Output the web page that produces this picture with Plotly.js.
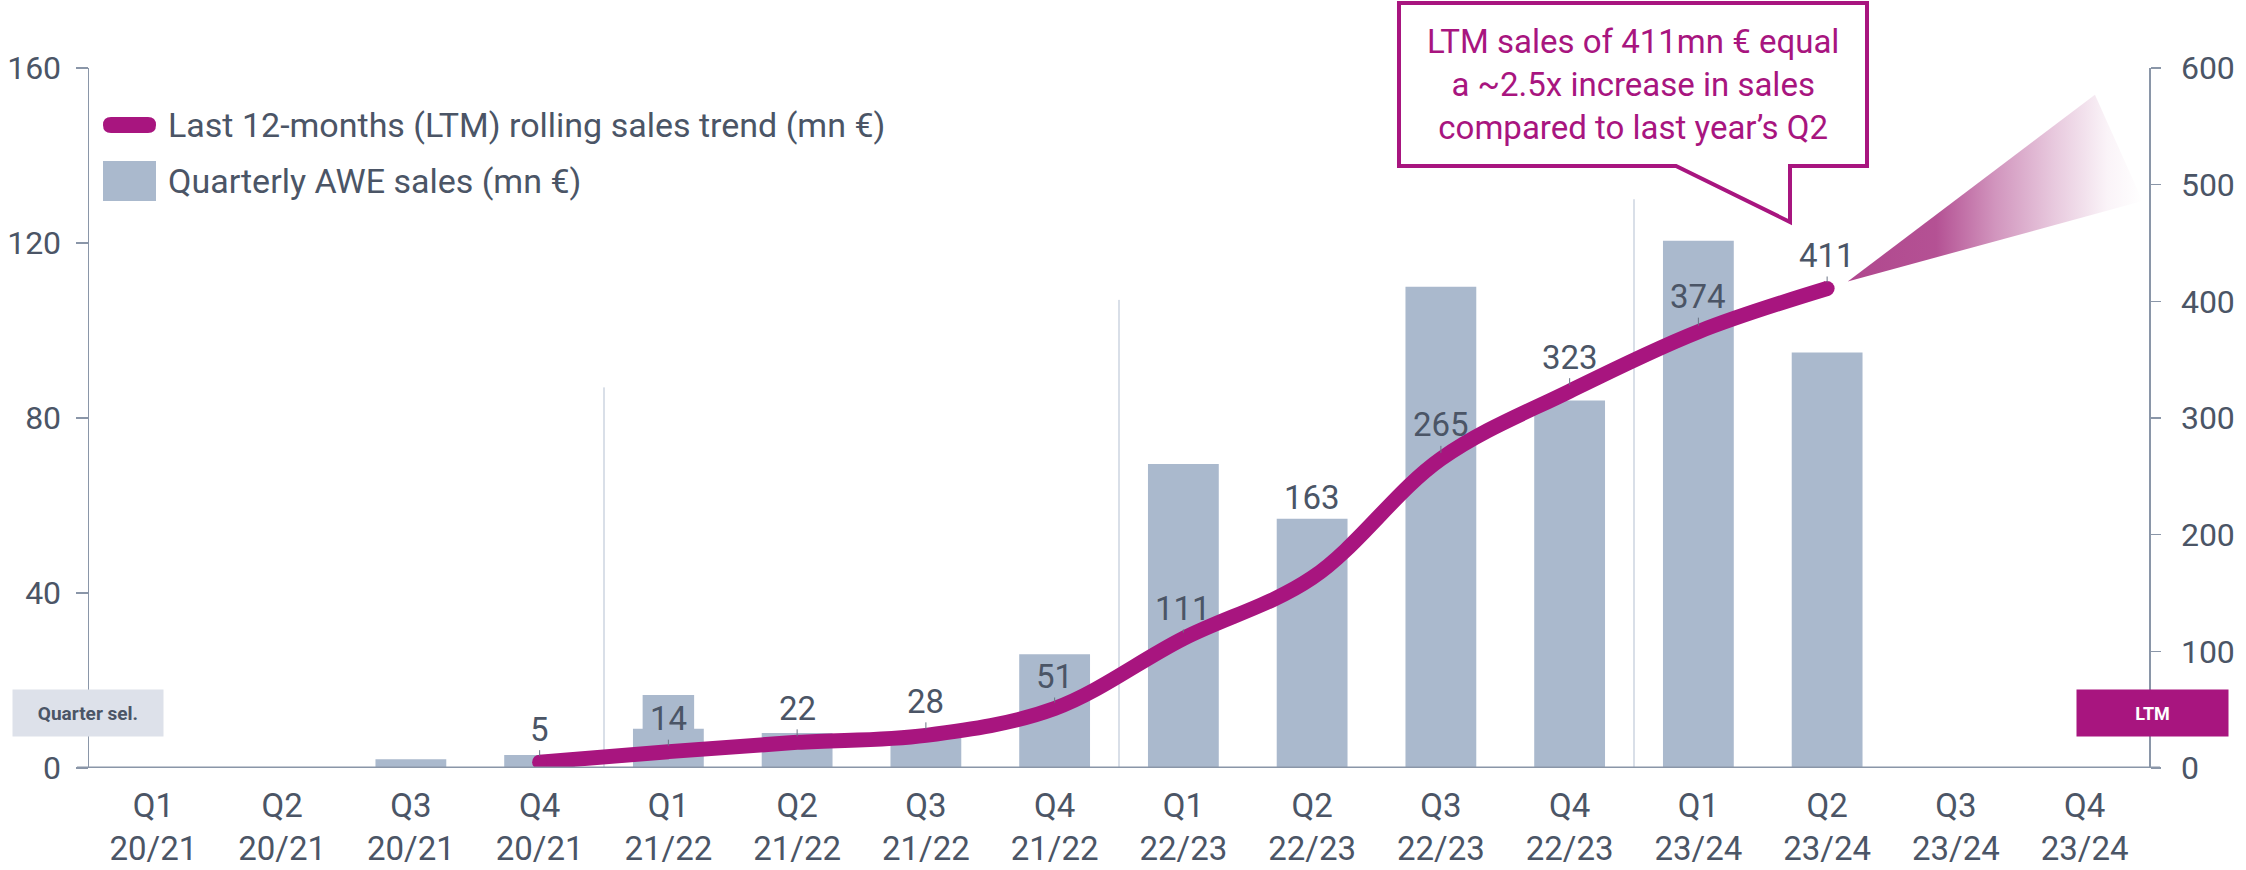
<!DOCTYPE html>
<html>
<head>
<meta charset="utf-8">
<script src="https://cdn.plot.ly/plotly-3.0.1.min.js"></script>
<style>
  html, body { margin: 0; padding: 0; background: #ffffff; }
  #chart { width: 2246px; height: 870px; }
</style>
</head>
<body>
<div id="chart"></div>
<script>
// ---------------- DATA ----------------
const quarters     = ['Q1','Q2','Q3','Q4','Q1','Q2','Q3','Q4','Q1','Q2','Q3','Q4','Q1','Q2','Q3','Q4'];
const fiscalYears  = ['20/21','20/21','20/21','20/21','21/22','21/22','21/22','21/22','22/23','22/23','22/23','22/23','23/24','23/24','23/24','23/24'];
const quarterlySales = [0, 0, 2, 3, 9, 8, 8, 26, 69.5, 57, 110, 84, 120.5, 95, null, null];   // left axis, mn €
const quarterlyShadow = [null, null, null, null, 16.7, null, null, null, null, null, null, null, null, null, null, null]; // narrow bar behind Q1 21/22
const ltmSales = [null, null, null, 5, 14, 22, 28, 51, 111, 163, 265, 323, 374, 411, null, null]; // right axis, mn €
const ltmLabelLift = [0, 0, 0, 33, 33, 34, 34, 32, 30, 80, 34, 34, 35, 33, 0, 0];
const yearSeparatorX   = [3.5, 7.5, 11.5];
const yearSeparatorTop = [87, 107, 130];
const coneX = [13.16, 15.08, 15.45];
const coneY = [417, 577, 486];
const legendNames = ['Last 12-months (LTM) rolling sales trend (mn €)', 'Quarterly AWE sales (mn €)'];
const calloutLines = ['LTM sales of 411mn € equal', 'a ~2.5x increase in sales', 'compared to last year’s Q2'];

// ---------------- STYLE ----------------
const FONT = 'Roboto, "Liberation Sans", Arial, sans-serif';
const TXT = '#4b5566';
const MAG = '#a8157f';
const BAR = '#aab9cd';
const AX = '#8a96a8';

const L = 89, T = 68, W = 2060, H = 700;
const X = px => (px - L) / W;
const Y = py => (T + H - py) / H;
const P = (pts) => pts.map((p, i) => (i ? 'L' : 'M') + X(p[0]).toFixed(5) + ',' + Y(p[1]).toFixed(5)).join(' ') + ' Z';

const idx = quarters.map((q, i) => i);
const tickText = quarters.map((q, i) => q + '<br>' + fiscalYears[i]);
const lastIdx = ltmSales.reduce((a, v, i) => (v !== null ? i : a), -1);
const firstIdx = ltmSales.findIndex(v => v !== null);

const traces = [
  { type: 'bar', x: idx, y: quarterlyShadow, width: 0.40, marker: { color: BAR }, yaxis: 'y', hoverinfo: 'skip', showlegend: false },
  { type: 'bar', x: idx, y: quarterlySales, width: 0.55, marker: { color: BAR }, yaxis: 'y', name: legendNames[1], showlegend: false },
  { type: 'scatter', x: coneX, y: coneY, yaxis: 'y2', mode: 'lines', line: { width: 0 }, fill: 'toself',
    fillgradient: { type: 'horizontal', colorscale: [
      [0, 'rgba(172,62,136,0.95)'], [0.3, 'rgba(172,62,136,0.9)'], [0.5, 'rgba(172,62,136,0.55)'],
      [0.7, 'rgba(172,62,136,0.28)'], [0.88, 'rgba(172,62,136,0.06)'], [1, 'rgba(172,62,136,0)']] },
    hoverinfo: 'skip', showlegend: false },
  { type: 'scatter', x: idx, y: ltmSales, yaxis: 'y2', mode: 'lines+markers', name: legendNames[0],
    line: { color: MAG, width: 15, shape: 'spline', smoothing: 1 },
    marker: { color: MAG, opacity: 1, size: ltmSales.map((v, i) => (i === firstIdx || i === lastIdx) ? 15 : 0), line: { width: 0 } },
    connectgaps: false, showlegend: false }
];

const annotations = [];
ltmSales.forEach((v, i) => {
  if (v === null) return;
  const lift = ltmLabelLift[i];
  annotations.push({
    x: i, y: v, xref: 'x', yref: 'y2', text: String(v),
    showarrow: lift < 60, arrowhead: 0, arrowwidth: 1, arrowcolor: '#6b7385', ax: 0, ay: -lift, standoff: 6,
    yshift: lift < 60 ? 0 : lift,
    font: { family: FONT, size: 33, color: TXT }
  });
});
// legend texts
annotations.push({ xref: 'paper', yref: 'paper', x: X(166), y: Y(125), xanchor: 'left', yanchor: 'middle', showarrow: false,
  text: legendNames[0], font: { family: FONT, size: 34, color: TXT } });
annotations.push({ xref: 'paper', yref: 'paper', x: X(166), y: Y(181), xanchor: 'left', yanchor: 'middle', showarrow: false,
  text: legendNames[1], font: { family: FONT, size: 34, color: TXT } });
// callout text
annotations.push({ xref: 'paper', yref: 'paper', x: X(1633), y: Y(84), xanchor: 'center', yanchor: 'middle', showarrow: false,
  text: calloutLines.join('<br>'), align: 'center', font: { family: FONT, size: 33, color: MAG } });
// side boxes
annotations.push({ xref: 'paper', yref: 'paper', x: X(88), y: Y(713), xanchor: 'center', yanchor: 'middle', showarrow: false,
  text: '<b>Quarter sel.</b>', bgcolor: '#dde1ea', width: 150, height: 46, borderpad: 0,
  font: { family: FONT, size: 19, color: TXT } });
annotations.push({ xref: 'paper', yref: 'paper', x: X(2152), y: Y(713), xanchor: 'center', yanchor: 'middle', showarrow: false,
  text: '<b>LTM</b>', bgcolor: MAG, width: 151, height: 46, borderpad: 0,
  font: { family: FONT, size: 18, color: '#ffffff' } });

const shapes = [];
yearSeparatorX.forEach((sx, i) => {
  shapes.push({ type: 'line', xref: 'x', yref: 'y', x0: sx, x1: sx, y0: 0, y1: yearSeparatorTop[i], layer: 'below',
    line: { color: '#b3bfd1', width: 1 } });
});
// baseline
shapes.push({ type: 'line', xref: 'paper', yref: 'y', x0: X(77), x1: X(2160), y0: 0, y1: 0, line: { color: AX, width: 3 } });
// legend symbols
shapes.push({ type: 'path', xref: 'paper', yref: 'paper', fillcolor: MAG, line: { width: 0 },
  path: 'M' + X(111) + ',' + Y(117) + ' L' + X(148) + ',' + Y(117) + ' Q' + X(156) + ',' + Y(117) + ' ' + X(156) + ',' + Y(125) +
        ' Q' + X(156) + ',' + Y(133) + ' ' + X(148) + ',' + Y(133) + ' L' + X(111) + ',' + Y(133) +
        ' Q' + X(103) + ',' + Y(133) + ' ' + X(103) + ',' + Y(125) + ' Q' + X(103) + ',' + Y(117) + ' ' + X(111) + ',' + Y(117) + ' Z' });
shapes.push({ type: 'rect', xref: 'paper', yref: 'paper', x0: X(103), x1: X(156), y0: Y(201), y1: Y(161), fillcolor: BAR, line: { width: 0 } });
// callout bubble
shapes.push({ type: 'path', xref: 'paper', yref: 'paper', fillcolor: '#ffffff', line: { color: MAG, width: 4 },
  path: P([[1399, 3], [1867, 3], [1867, 166], [1790, 166], [1790, 222], [1676, 166], [1399, 166]]) });

const layout = {
  width: 2246, height: 870,
  margin: { l: L, r: 2246 - L - W, t: T, b: 870 - T - H, pad: 0 },
  paper_bgcolor: '#ffffff', plot_bgcolor: '#ffffff',
  barmode: 'overlay', showlegend: false,
  font: { family: FONT, color: TXT, size: 33 },
  xaxis: { range: [-0.5, 15.5], tickmode: 'array', tickvals: idx, ticktext: tickText, showgrid: false, zeroline: false,
    showline: false, ticks: '', tickfont: { family: FONT, size: 33, color: TXT }, ticklabelstandoff: 15, fixedrange: true },
  yaxis: { range: [0, 160], tickmode: 'array', tickvals: [0, 40, 80, 120, 160], showgrid: false, zeroline: false,
    showline: true, linecolor: AX, linewidth: 1.5, ticks: 'outside', ticklen: 12, tickwidth: 1.5, tickcolor: AX,
    tickfont: { family: FONT, size: 32, color: TXT }, ticklabelstandoff: 8, fixedrange: true },
  yaxis2: { range: [0, 600], overlaying: 'y', side: 'right', tickmode: 'array', tickvals: [0, 100, 200, 300, 400, 500, 600],
    showgrid: false, zeroline: false, showline: true, linecolor: AX, linewidth: 1.5, ticks: 'outside', ticklen: 10,
    tickwidth: 1.5, tickcolor: AX, tickfont: { family: FONT, size: 32, color: TXT }, ticklabelstandoff: 14, fixedrange: true },
  shapes: shapes,
  annotations: annotations
};

Plotly.newPlot('chart', traces, layout, { displayModeBar: false, staticPlot: true });
</script>
</body>
</html>
